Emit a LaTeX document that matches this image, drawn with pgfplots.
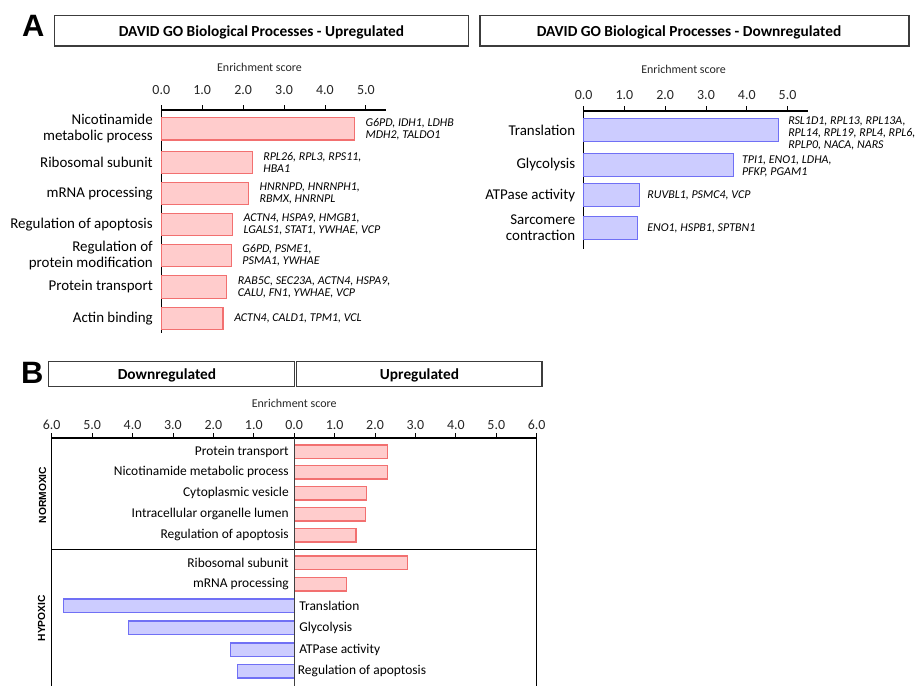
\documentclass[border=0pt]{standalone}
\usepackage{fontspec}
\setmainfont{Carlito}
\newfontfamily\arialf{Liberation Sans}
\usepackage{pgfplots}
\pgfplotsset{compat=1.18}
\definecolor{pfill}{RGB}{255,204,204}
\definecolor{pedge}{RGB}{242,112,112}
\definecolor{bfill}{RGB}{204,204,255}
\definecolor{bedge}{RGB}{112,112,245}
\definecolor{boxc}{RGB}{60,60,60}
\pgfplotsset{
  common/.style={
    scale only axis, clip=false, y dir=reverse, ymin=0,
    axis line style={-, line width=1.1bp, black},
    tick align=outside, major tick length=5bp,
    xtick style={line width=0.8bp, black},
    ytick style={draw=none},
    xticklabel style={font=\fontsize{14}{14}\selectfont, text=black!85, anchor=base},
    yticklabel style={align=right, font=\fontsize{15}{15.7}\selectfont, text=black},
  },
  panelA/.style={common, xmin=0, xmax=5.5,
    axis x line*=top, axis y line*=left,
    xtick={0,1,2,3,4,5}, xticklabels={0.0,1.0,2.0,3.0,4.0,5.0}},
}
\tikzset{
  gene/.style={anchor=west, xshift=#1, align=left, inner sep=0pt,
    font=\itshape\fontsize{12}{12}\selectfont},
  escore/.style={font=\fontsize{12}{12}\selectfont, text=black!85},
  blab/.style={inner sep=0pt, font=\fontsize{13.5}{13.5}\selectfont},
}
\begin{document}
\begin{tikzpicture}
\useasboundingbox (0,0) rectangle (921bp,-686bp);
% panel letters
\node[anchor=base west, inner sep=0pt, font=\arialf\bfseries\fontsize{31}{31}\selectfont] at (22bp,-36.5bp) {A};
\node[anchor=base west, inner sep=0pt, font=\arialf\bfseries\fontsize{31}{31}\selectfont] at (21bp,-383bp) {B};
% header boxes A
\draw[line width=1.3bp, boxc] (54.3bp,-15.7bp) rectangle (468.3bp,-46bp);
\node[font=\bfseries\fontsize{15.4}{15.4}\selectfont] at (261.5bp,-32.5bp) {DAVID GO Biological Processes - Upregulated};
\draw[line width=1.3bp, boxc] (480bp,-15.7bp) rectangle (909bp,-46bp);
\node[font=\bfseries\fontsize{15.4}{15.4}\selectfont] at (689bp,-32.5bp) {DAVID GO Biological Processes - Downregulated};
% header boxes B
\draw[line width=1.3bp, boxc] (48.2bp,-361.7bp) rectangle (294.6bp,-386.7bp);
\node[font=\bfseries\fontsize{15.4}{15.4}\selectfont] at (167bp,-375bp) {Downregulated};
\draw[line width=1.3bp, boxc] (296.4bp,-361.7bp) rectangle (542.1bp,-386.7bp);
\node[font=\bfseries\fontsize{15.4}{15.4}\selectfont] at (419.5bp,-375bp) {Upregulated};
% side labels B
\node[rotate=90, font=\arialf\bfseries\fontsize{10.3}{10.3}\selectfont] at (42.7bp,-495bp) {NORMOXIC};
\node[rotate=90, font=\arialf\bfseries\fontsize{10.3}{10.3}\selectfont] at (41.5bp,-618.3bp) {HYPOXIC};

% ---------- Panel A, upregulated ----------
\begin{axis}[panelA, at={(161.3bp,-110bp)}, anchor=north west,
  width=225bp, height=223bp, ymax=223,
  xticklabel style={yshift=10.3bp},
  ytick={18.8,52.5,83.5,114.5,145.5,177,208.5},
  yticklabels={{Nicotinamide\\metabolic process},{Ribosomal subunit},{mRNA processing},{Regulation of apoptosis},{Regulation of\\protein modification},{Protein transport},{Actin binding}}]
\addplot[xbar, bar shift=0pt, bar width=22.5bp, fill=pfill, draw=pedge, line width=1.2bp]
  coordinates {(4.72,18.8) (2.22,52.5) (2.13,83.5) (1.74,114.5) (1.71,145.5) (1.60,177) (1.51,208.5)};
\node[escore] at (axis cs:2.4,0) [yshift=43bp] {Enrichment score};
\node[gene=11bp] at (axis cs:4.72,18.8) {G6PD, IDH1, LDHB\\MDH2, TALDO1};
\node[gene=11bp] at (axis cs:2.22,52.5) {RPL26, RPL3, RPS11,\\HBA1};
\node[gene=11bp] at (axis cs:2.13,83.5) {HNRNPD, HNRNPH1,\\RBMX, HNRNPL};
\node[gene=11bp] at (axis cs:1.74,114.5) {ACTN4, HSPA9, HMGB1,\\LGALS1, STAT1, YWHAE, VCP};
\node[gene=11bp] at (axis cs:1.71,145.5) {G6PD, PSME1,\\PSMA1, YWHAE};
\node[gene=11bp] at (axis cs:1.60,177) {RAB5C, SEC23A, ACTN4, HSPA9,\\CALU, FN1, YWHAE, VCP};
\node[gene=11bp] at (axis cs:1.51,208.5) {ACTN4, CALD1, TPM1, VCL};
\end{axis}

% ---------- Panel A, downregulated ----------
\begin{axis}[panelA, at={(583.7bp,-111bp)}, anchor=north west,
  width=224.2bp, height=138.3bp, ymax=138.3,
  xticklabel style={yshift=6.3bp},
  ytick={19,54,84.3,117},
  yticklabels={{Translation},{Glycolysis},{ATPase activity},{Sarcomere\\contraction}}]
\addplot[xbar, bar shift=0pt, bar width=23bp, fill=bfill, draw=bedge, line width=1.2bp]
  coordinates {(4.78,19) (3.67,54) (1.36,84.3) (1.31,117)};
\node[escore] at (axis cs:2.45,0) [yshift=42bp] {Enrichment score};
\node[gene=9.5bp, yshift=-3.5bp] at (axis cs:4.78,19) {RSL1D1, RPL13, RPL13A,\\RPL14, RPL19, RPL4, RPL6,\\RPLP0, NACA, NARS};
\node[gene=8.5bp, yshift=-1.8bp] at (axis cs:3.67,54) {TPI1, ENO1, LDHA,\\PFKP, PGAM1};
\node[gene=8bp] at (axis cs:1.36,84.3) {RUVBL1, PSMC4, VCP};
\node[gene=10bp] at (axis cs:1.31,117) {ENO1, HSPB1, SPTBN1};
\end{axis}

% ---------- Panel B ----------
\begin{axis}[common, at={(51.7bp,-438bp)}, anchor=north west,
  width=485bp, height=248bp, xmin=-6, xmax=6, ymax=248,
  axis x line*=top, axis y line*=box, ytick=\empty,
  xticklabel style={yshift=3.4bp},
  xtick={-6,-5,-4,-3,-2,-1,0,1,2,3,4,5,6},
  xticklabels={6.0,5.0,4.0,3.0,2.0,1.0,0.0,1.0,2.0,3.0,4.0,5.0,6.0}]
\addplot[xbar, bar shift=0pt, bar width=13.5bp, fill=pfill, draw=pedge, line width=1.2bp]
  coordinates {(2.31,13.7) (2.30,34.3) (1.79,55.3) (1.77,76.3) (1.53,97.3) (2.80,124.7) (1.30,146.3)};
\addplot[xbar, bar shift=0pt, bar width=13.5bp, fill=bfill, draw=bedge, line width=1.2bp]
  coordinates {(-5.71,167.8) (-4.10,189.8) (-1.57,211.7) (-1.41,233.3)};
\draw[line width=1.2bp, black] (axis cs:-6,111.3) -- (axis cs:6,111.3);
\draw[line width=1.2bp, black!75] (axis cs:0,0) -- (axis cs:0,248);
\node[escore] at (axis cs:0,0) [yshift=34.5bp] {Enrichment score};
\node[blab, anchor=east, xshift=-5.3bp] at (axis cs:0,13.7) {Protein transport};
\node[blab, anchor=east, xshift=-5.3bp] at (axis cs:0,34.3) {Nicotinamide metabolic process};
\node[blab, anchor=east, xshift=-5.3bp] at (axis cs:0,55.3) {Cytoplasmic vesicle};
\node[blab, anchor=east, xshift=-5.3bp] at (axis cs:0,76.3) {Intracellular organelle lumen};
\node[blab, anchor=east, xshift=-5.3bp] at (axis cs:0,97.3) {Regulation of apoptosis};
\node[blab, anchor=east, xshift=-5.3bp] at (axis cs:0,124.7) {Ribosomal subunit};
\node[blab, anchor=east, xshift=-5.3bp] at (axis cs:0,146.3) {mRNA processing};
\node[blab, anchor=west, xshift=5bp] at (axis cs:0,167.8) {Translation};
\node[blab, anchor=west, xshift=5bp] at (axis cs:0,189.8) {Glycolysis};
\node[blab, anchor=west, xshift=5bp] at (axis cs:0,211.7) {ATPase activity};
\node[blab, anchor=west, xshift=3.5bp] at (axis cs:0,233.3) {Regulation of apoptosis};
\end{axis}
\end{tikzpicture}
\end{document}
